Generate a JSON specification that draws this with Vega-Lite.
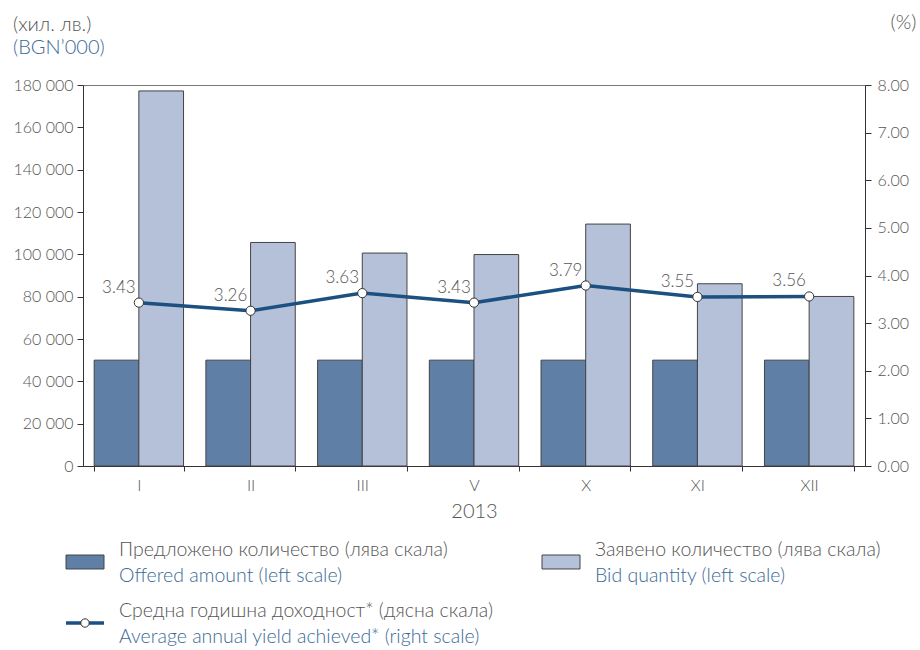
{
  "$schema": "https://vega.github.io/schema/vega-lite/v6.json",
  "padding": {"left": 12, "top": 11, "right": 2, "bottom": 0},
  "config": {
    "font": "Lato",
    "view": {"stroke": null},
    "text": {"font": "Lato"},
    "axis": {"labelFont": "Lato", "titleFont": "Lato", "labelColor": "#555555", "titleColor": "#555555", "labelFontSize": 16, "titleFontSize": 20, "titleFontWeight": 300, "domainColor": "#333333", "tickColor": "#333333", "grid": false, "labelFontWeight": 300},
    "title": {"font": "Lato", "subtitleFont": "Lato"}
  },
  "spacing": 18,
  "vconcat": [
    {
      "width": 782,
      "height": 381,
      "view": {"stroke": "#777777", "strokeWidth": 1},
      "title": {"text": "(хил. лв.)", "subtitle": "(BGN’000)", "anchor": "start", "frame": "bounds", "fontSize": 20, "fontWeight": 300, "color": "#555555", "subtitleFontSize": 20, "subtitleFontWeight": 300, "subtitleColor": "#3a6a96", "subtitlePadding": 3, "offset": -46},
      "data": {"values": [
        {"m": "I", "offered": 50000, "bid": 177200, "yield": 3.43},
        {"m": "II", "offered": 50000, "bid": 105600, "yield": 3.26},
        {"m": "III", "offered": 50000, "bid": 100600, "yield": 3.63},
        {"m": "V", "offered": 50000, "bid": 99900, "yield": 3.43},
        {"m": "X", "offered": 50000, "bid": 114300, "yield": 3.79},
        {"m": "XI", "offered": 50000, "bid": 86100, "yield": 3.55},
        {"m": "XII", "offered": 50000, "bid": 80100, "yield": 3.56}
      ]},
      "encoding": {
        "x": {"field": "m", "type": "nominal", "sort": null, "scale": {"paddingInner": 0.2, "paddingOuter": 0.1}, "axis": {"title": "2013", "titleFontWeight": 300, "titleFontSize": 20, "labelAngle": 0, "tickBand": "extent", "tickSize": 5, "labelPadding": 6, "titlePadding": 8, "labelFontSize": 16}}
      },
      "layer": [
        {
          "transform": [{"fold": ["offered", "bid"], "as": ["series", "value"]}],
          "mark": {"type": "bar", "stroke": "#444444", "strokeWidth": 1},
          "encoding": {
            "xOffset": {"field": "series", "type": "nominal", "sort": ["offered", "bid"], "scale": {"paddingInner": 0, "paddingOuter": 0}},
            "y": {"field": "value", "type": "quantitative", "scale": {"domain": [0, 180000], "nice": false}, "axis": {"title": null, "values": [0, 20000, 40000, 60000, 80000, 100000, 120000, 140000, 160000, 180000], "labelExpr": "replace(format(datum.value, ','), ',', ' ')", "tickSize": 6, "labelPadding": 4}},
            "color": {"field": "series", "type": "nominal", "scale": {"domain": ["offered", "bid"], "range": ["#5f7fa7", "#b4c1d8"]}, "legend": null}
          }
        },
        {
          "encoding": {
            "y": {"field": "yield", "type": "quantitative", "scale": {"domain": [0, 8], "nice": false}, "axis": {"orient": "right", "title": "(%)", "titleAngle": 0, "titleAlign": "right", "titleBaseline": "middle", "titleX": 51, "titleY": -63, "titleFontSize": 20, "titleFontWeight": 300, "values": [0, 1, 2, 3, 4, 5, 6, 7, 8], "format": ".2f", "tickSize": 6, "labelPadding": 6}}
          },
          "layer": [
            {"mark": {"type": "line", "color": "#1b5080", "strokeWidth": 3.5}},
            {"mark": {"type": "point", "filled": true, "fill": "#ffffff", "stroke": "#333333", "strokeWidth": 1, "size": 85, "opacity": 1}},
            {"mark": {"type": "text", "dx": -20, "dy": -15, "fontSize": 17, "fontWeight": 300, "color": "#555555"}, "encoding": {"text": {"field": "yield", "type": "quantitative", "format": ".2f"}}}
          ]
        }
      ],
      "resolve": {"scale": {"y": "independent"}}
    },
    {
      "width": 782,
      "height": 100,
      "data": {"values": [
        {"key": "offered", "bg": "Предложено количество (лява скала)", "en": "Offered amount (left scale)", "col": 0, "row": 0},
        {"key": "bid", "bg": "Заявено количество (лява скала)", "en": "Bid quantity (left scale)", "col": 1, "row": 0},
        {"key": "yield", "bg": "Средна годишна доходност* (дясна скала)", "en": "Average annual yield achieved* (right scale)", "col": 0, "row": 1}
      ]},
      "encoding": {
        "x": {"field": "col", "type": "quantitative", "scale": {"domain": [0, 1], "range": [2, 478]}, "axis": null},
        "y": {"field": "row", "type": "quantitative", "scale": {"domain": [0, 1], "range": [16, 77]}, "axis": null}
      },
      "layer": [
        {"transform": [{"filter": "datum.key === 'offered'"}], "mark": {"type": "point", "shape": "M-1,-0.368H1V0.368H-1Z", "size": 1444, "filled": true, "fill": "#5f7fa7", "stroke": "#444444", "strokeWidth": 1, "opacity": 1}},
        {"transform": [{"filter": "datum.key === 'bid'"}], "mark": {"type": "point", "shape": "M-1,-0.368H1V0.368H-1Z", "size": 1444, "filled": true, "fill": "#b4c1d8", "stroke": "#444444", "strokeWidth": 1, "opacity": 1}},
        {"transform": [{"filter": "datum.key === 'yield'"}], "mark": {"type": "point", "shape": "M-1,0H1", "size": 1444, "filled": false, "stroke": "#1b5080", "strokeWidth": 3.5, "opacity": 1}},
        {"transform": [{"filter": "datum.key === 'yield'"}], "mark": {"type": "point", "shape": "circle", "size": 70, "filled": true, "fill": "#ffffff", "stroke": "#333333", "strokeWidth": 1, "opacity": 1}},
        {"mark": {"type": "text", "align": "left", "baseline": "middle", "dx": 34, "dy": -12, "fontSize": 19.5, "fontWeight": 300, "color": "#555555"}, "encoding": {"text": {"field": "bg"}}},
        {"mark": {"type": "text", "align": "left", "baseline": "middle", "dx": 34, "dy": 14, "fontSize": 19.5, "fontWeight": 300, "color": "#3a6a96"}, "encoding": {"text": {"field": "en"}}}
      ]
    }
  ]
}
